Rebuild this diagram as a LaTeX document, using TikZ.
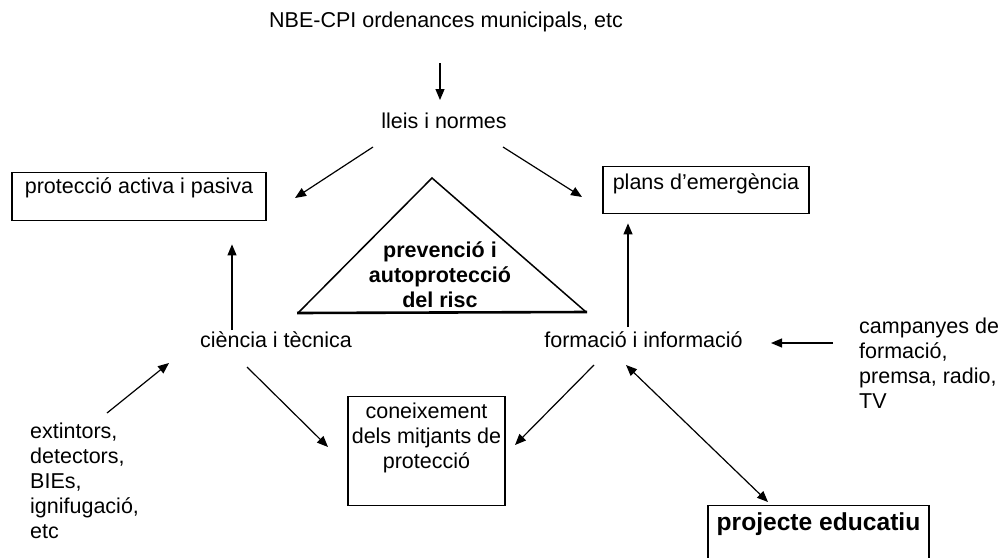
\documentclass[tikz,border=0pt]{standalone}
\usepackage{fontspec}
\setmainfont{Liberation Sans}
\usetikzlibrary{arrows.meta}
\begin{document}
\begin{tikzpicture}[x=1pt,y=-1pt,
  txt/.style={inner sep=0, font=\fontsize{21.5}{25}\selectfont},
  ml/.style={txt, align=left},
  box/.style={draw, line width=1.4pt, inner xsep=0, inner ysep=0, align=center, font=\fontsize{21.5}{25}\selectfont},
  arr/.style={-{Triangle[length=11pt,width=9pt]}, line width=1.2pt},
  darr/.style={{Triangle[length=11pt,width=9pt]}-{Triangle[length=11pt,width=9pt]}, line width=1.2pt},
]
\clip (0,0) rectangle (998,557);
\fill[white] (0,0) rectangle (998,557);

% texts
\node[txt, anchor=base] (nbe) at (446,27.6) {NBE-CPI ordenances municipals, etc};
\node[txt, anchor=base] (lleis) at (444,128.6) {lleis i normes};
\node[box, anchor=north, minimum width=254] (pap) at (139,172) {\rule{0pt}{20.6pt}protecció activa i pasiva\rule[-27.4pt]{0pt}{0pt}};
\node[box, anchor=north, minimum width=206] (plans) at (706,166) {\rule{0pt}{22.6pt}plans d’emergència\rule[-24.4pt]{0pt}{0pt}};

% triangle
\draw[line width=1.5pt, line join=miter] (298,313) -- (432,178) -- (586,312);
\draw[line width=2.6pt] (297,313) -- (587,312);
\node[txt, align=center, anchor=north, font=\fontsize{21.5}{25}\selectfont\bfseries] (prev) at (440,241.1) {\rule{0pt}{15.5pt}prevenció i\\autoprotecció\\del risc};

\node[txt, anchor=base] (cit) at (276,347.6) {ciència i tècnica};
\node[ml, anchor=north west] (ext) at (30,423.1) {\rule{0pt}{15.5pt}extintors,\\detectors,\\BIEs,\\ignifugació,\\etc};
\node[box, anchor=north, minimum width=157] (con) at (426.5,396) {\rule{0pt}{21.6pt}coneixement\\dels mitjants de\\protecció\rule[-37.4pt]{0pt}{0pt}};
\node[txt, anchor=base] (fi) at (643.5,347.6) {formació i informació};
\node[ml, anchor=north west] (camp) at (859,318.1) {\rule{0pt}{15.5pt}campanyes de\\formació,\\premsa, radio,\\TV};
\node[box, anchor=north, minimum width=221, font=\fontsize{24.6}{28}\selectfont\bfseries] (proj) at (818.5,505) {\rule{0pt}{24.4pt}projecte educatiu\rule[-55.6pt]{0pt}{0pt}};

% connectors
\draw[arr] ([shift={(-6,35.4)}]nbe.base) -- ([shift={(-4,-28.6)}]lleis.base);
\draw[arr] ([shift={(-71,18.4)}]lleis.base) -- ([shift={(156,26)}]pap.north);
\draw[arr] ([shift={(59,18.4)}]lleis.base) -- ([shift={(-124,31)}]plans.north);
\draw[arr] ([shift={(-44,-17.6)}]cit.base) -- ([shift={(93,23)}]pap.south);
\draw[arr] ([shift={(77,-10.1)}]ext.north west) -- ([shift={(-107,15.4)}]cit.base);
\draw[arr] ([shift={(-29,19.4)}]cit.base) -- ([shift={(-98.5,51)}]con.north);
\draw[arr] ([shift={(-15.5,-20.6)}]fi.base) -- ([shift={(-78,9)}]plans.south);
\draw[arr] ([shift={(-26,24.9)}]camp.north west) -- ([shift={(127.5,-4.6)}]fi.base);
\draw[arr] ([shift={(-49.5,17.4)}]fi.base) -- ([shift={(88.5,49)}]con.north);
\draw[darr] ([shift={(-17.5,17.4)}]fi.base) -- ([shift={(-50.5,-3)}]proj.north);
\end{tikzpicture}
\end{document}
